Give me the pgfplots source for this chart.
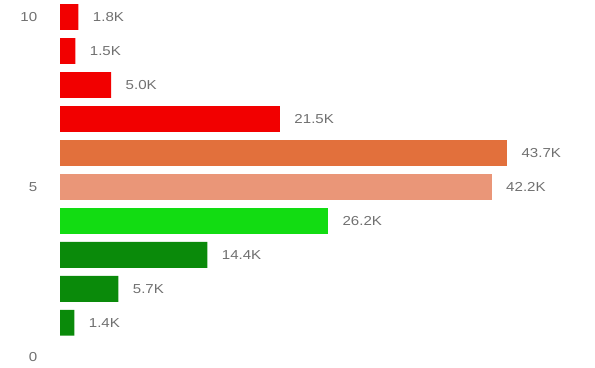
\documentclass[border=0pt]{standalone}
\usepackage{fontspec}
\setmainfont{Liberation Sans}[FakeStretch=1.16]
\usepackage{pgfplots}
\pgfplotsset{compat=1.18}
\definecolor{dgreen}{HTML}{0A8A0A}
\definecolor{bgreen}{HTML}{12DC12}
\definecolor{salmon}{HTML}{EA9678}
\definecolor{dorange}{HTML}{E2703C}
\definecolor{bred}{HTML}{F20000}
\definecolor{txt}{HTML}{707070}
\begin{document}
\begin{tikzpicture}
\begin{axis}[
  scale only axis, width=595pt, height=367pt,
  xmin=-5.87, xmax=52.3, ymin=-0.3, ymax=10.5,
  xbar, bar width=0.76, bar shift=0pt,
  axis line style={draw=none}, major tick style={draw=none},
  xtick=\empty, ytick={0,5,10},
  /pgf/number format/assume math mode=true,
  yticklabel style={anchor=east, xshift=45pt, font=\fontsize{13}{15}\selectfont, text=txt},
  nodes near coords, point meta=explicit symbolic,
  nodes near coords style={anchor=west, xshift=11pt, font=\fontsize{13}{15}\selectfont, text=txt},
  every axis plot/.append style={draw=none},
]
\addplot[fill=dgreen] coordinates {(1.4,1)[1.4K] (5.7,2)[5.7K] (14.4,3)[14.4K]};
\addplot[fill=bgreen] coordinates {(26.2,4)[26.2K]};
\addplot[fill=salmon] coordinates {(42.2,5)[42.2K]};
\addplot[fill=dorange] coordinates {(43.7,6)[43.7K]};
\addplot[fill=bred] coordinates {(21.5,7)[21.5K] (5.0,8)[5.0K] (1.5,9)[1.5K] (1.8,10)[1.8K]};
\end{axis}
\pgfresetboundingbox
\path (current axis.south west) rectangle (current axis.north east);
\end{tikzpicture}
\end{document}
